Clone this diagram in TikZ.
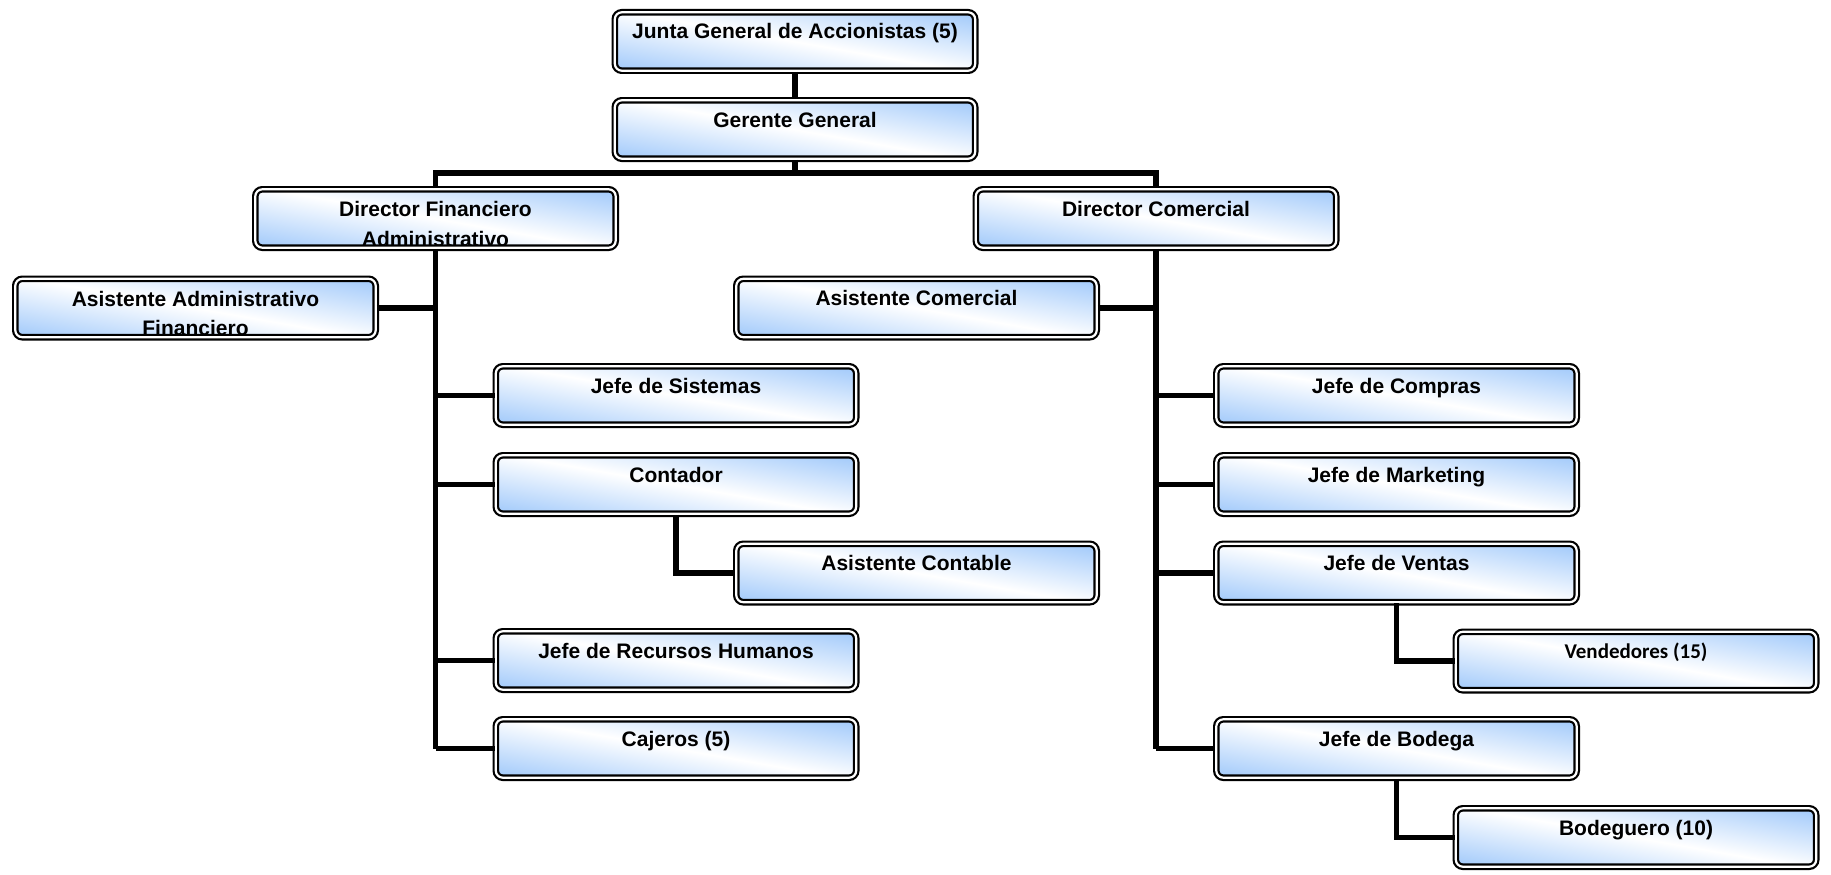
\documentclass[tikz,border=0pt]{standalone}
\usepackage{fontspec}
\newfontfamily\arialfont{Liberation Sans}
\newfontfamily\calib{Carlito}
\usetikzlibrary{calc}
\definecolor{boxblue}{RGB}{150,195,250}
\tikzset{
  orgbox/.style={rounded corners=7pt, draw=black, line width=2.2pt,
    double=white, double distance=2.2pt,
    minimum width=360.4pt, minimum height=58.4pt, inner sep=0pt,
    fill=white,
    % blue-white-blue gradient running slightly off the vertical
    path picture={\shade[transform canvas={rotate around={-10:(path picture bounding box.center)}},
        top color=boxblue, bottom color=boxblue, middle color=white]
        ([shift={(-230pt,-66pt)}]path picture bounding box.center)
        rectangle ([shift={(230pt,66pt)}]path picture bounding box.center);}},
  txt/.style={font=\arialfont\bfseries\fontsize{21}{29}\selectfont,
    anchor=base, inner sep=0pt},
  link/.style={line width=5.3pt, draw=black}
}
% text of a box: baseline 27.8pt under its north anchor
\newcommand\boxtext[3]{\node[txt] (#1) at ([yshift=-27.8pt]#2.north) {#3};}
% two-line text, the second line kept inside the inner border
\newcommand\boxtextii[4]{%
  \node[txt] (#1a) at ([yshift=-28.4pt]#2.north) {#3};
  \begin{scope}
    \clip[rounded corners=4pt] ([shift={(4.4pt,4.4pt)}]#2.south west)
      rectangle ([shift={(-4.4pt,-4.4pt)}]#2.north east);
    \node[txt] (#1b) at ([yshift=-58pt]#2.north) {#4};
  \end{scope}}
\begin{document}
\begin{tikzpicture}[x=1pt, y=-1pt]
\useasboundingbox (0,0) rectangle (1831,875);
\coordinate (bus) at (795,173);

\node[orgbox] (jg) at (795,41.5) {};
\node[orgbox] (gg) at (795,129.5) {};
\node[orgbox] (df) at (435.5,218.5) {};
\node[orgbox] (dc) at (1156,218.5) {};
\node[orgbox] (aaf) at (195.5,308) {};
\node[orgbox] (ac) at (916.5,308) {};
\node[orgbox] (js) at (676,395.5) {};
\node[orgbox] (co) at (676,484.5) {};
\node[orgbox] (acont) at (916.5,573) {};
\node[orgbox] (jrh) at (676,660.5) {};
\node[orgbox] (caj) at (676,748.5) {};
\node[orgbox] (jc) at (1396.5,395.5) {};
\node[orgbox] (jm) at (1396.5,484.5) {};
\node[orgbox] (jv) at (1396.5,573) {};
\node[orgbox] (vend) at (1636,661) {};
\node[orgbox] (jb) at (1396.5,748.5) {};
\node[orgbox] (bod) at (1636,837.5) {};

\boxtext{jgt}{jg}{Junta General de Accionistas (5)}
\boxtext{ggt}{gg}{Gerente General}
\boxtextii{dft}{df}{Director Financiero}{Administrativo}
\boxtext{dct}{dc}{Director Comercial}
\boxtextii{aaft}{aaf}{Asistente Administrativo}{Financiero}
\boxtext{act}{ac}{Asistente Comercial}
\boxtext{jst}{js}{Jefe de Sistemas}
\boxtext{cot}{co}{Contador}
\boxtext{acontt}{acont}{Asistente Contable}
\boxtext{jrht}{jrh}{Jefe de Recursos Humanos}
\boxtext{cajt}{caj}{Cajeros (5)}
\boxtext{jct}{jc}{Jefe de Compras}
\boxtext{jmt}{jm}{Jefe de Marketing}
\boxtext{jvt}{jv}{Jefe de Ventas}
\boxtext{vendt}{vend}{\calib\bfseries Vendedores (15)}
\boxtext{jbt}{jb}{Jefe de Bodega}
\boxtext{bodt}{bod}{Bodeguero (10)}

% top of the chart
\draw[link] (jg.south) -- (gg.north);
\draw[link] (gg.south) -- (gg.south |- bus);
\draw[link] (df.north) -- (df.north |- bus) -- (dc.north |- bus) -- (dc.north);

% financial branch
\draw[link] (df.south) -- (df.south |- caj.west);
\draw[link] (aaf.east) -- (aaf.east -| df.south);
\draw[link] (js.west) -- (js.west -| df.south);
\draw[link] (co.west) -- (co.west -| df.south);
\draw[link] (jrh.west) -- (jrh.west -| df.south);
\draw[link] (caj.west) -- (caj.west -| df.south);
\draw[link] (co.south) |- (acont.west);

% commercial branch
\draw[link] (dc.south) -- (dc.south |- jb.west);
\draw[link] (ac.east) -- (ac.east -| dc.south);
\draw[link] (jc.west) -- (jc.west -| dc.south);
\draw[link] (jm.west) -- (jm.west -| dc.south);
\draw[link] (jv.west) -- (jv.west -| dc.south);
\draw[link] (jb.west) -- (jb.west -| dc.south);
\draw[link] (jv.south) |- (vend.west);
\draw[link] (jb.south) |- (bod.west);
\end{tikzpicture}
\end{document}
